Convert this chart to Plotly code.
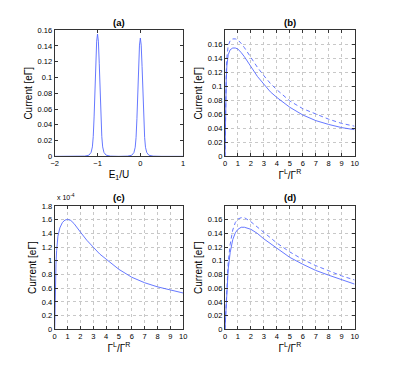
import plotly.graph_objects as go

# panel (a): current vs E1/U, two resonance peaks
a_x = [-2.0, -1.5, -1.3, -1.2, -1.15, -1.12, -1.1, -1.08, -1.06, -1.04, -1.02, -1.0,
       -0.98, -0.96, -0.94, -0.92, -0.9, -0.88, -0.85, -0.8, -0.7,
       -0.5, -0.3, -0.2, -0.15, -0.12, -0.1, -0.08, -0.06, -0.04, -0.02, 0.0,
       0.02, 0.04, 0.06, 0.08, 0.1, 0.12, 0.15, 0.2, 0.3, 0.5, 1.0]
a_y = [0.0, 0.0, 0.0003, 0.0015, 0.005, 0.012, 0.025, 0.05, 0.083, 0.118, 0.146, 0.155,
       0.146, 0.118, 0.083, 0.05, 0.025, 0.012, 0.005, 0.0015, 0.0003,
       0.0, 0.0003, 0.0014, 0.0048, 0.0115, 0.024, 0.048, 0.08, 0.114, 0.141, 0.15,
       0.141, 0.114, 0.08, 0.048, 0.024, 0.0115, 0.0048, 0.0014, 0.0003, 0.0, 0.0]

# ratio axis shared by (b), (c), (d)
g = [0, 0.02, 0.05, 0.1, 0.15, 0.25, 0.4, 0.6, 0.8, 1.0, 1.25, 1.5, 2, 2.5,
     3, 3.5, 4, 5, 6, 7, 8, 9, 10]

b_solid = [0, 0.03, 0.07, 0.11, 0.13, 0.145, 0.152, 0.1545, 0.1545, 0.153, 0.148, 0.142,
           0.128, 0.114, 0.103, 0.092, 0.084, 0.07, 0.059, 0.051, 0.0455, 0.041, 0.038]
b_dash = [0, 0.035, 0.08, 0.12, 0.142, 0.158, 0.165, 0.1675, 0.1675, 0.166, 0.161, 0.155,
          0.141, 0.127, 0.115, 0.104, 0.095, 0.079, 0.068, 0.06, 0.053, 0.047, 0.043]

c_curve = [0, 0.3, 0.65, 0.95, 1.15, 1.36, 1.48, 1.56, 1.595, 1.605, 1.59, 1.545,
           1.42, 1.3, 1.2, 1.1, 1.025, 0.875, 0.76, 0.68, 0.62, 0.57, 0.53]

d_solid = [0, 0.009, 0.022, 0.04, 0.058, 0.088, 0.112, 0.131, 0.141, 0.146, 0.149, 0.149,
           0.146, 0.14, 0.132, 0.125, 0.118, 0.105, 0.095, 0.086, 0.079, 0.072, 0.066]
d_dash = [0, 0.01, 0.025, 0.046, 0.066, 0.098, 0.124, 0.145, 0.156, 0.161, 0.163, 0.163,
          0.157, 0.149, 0.141, 0.133, 0.126, 0.113, 0.102, 0.093, 0.085, 0.078, 0.072]

blue = 'rgb(85,105,255)'
font = 'Liberation Sans, Arial, Helvetica, sans-serif'
lw = 0.9

fig = go.Figure()
fig.add_trace(go.Scatter(x=a_x, y=a_y, mode='lines', line=dict(color=blue, width=lw), xaxis='x', yaxis='y'))
fig.add_trace(go.Scatter(x=g, y=b_solid, mode='lines', line=dict(color=blue, width=lw), xaxis='x2', yaxis='y2'))
fig.add_trace(go.Scatter(x=g, y=b_dash, mode='lines', line=dict(color=blue, width=lw, dash='4px,3px'), xaxis='x2', yaxis='y2'))
fig.add_trace(go.Scatter(x=g, y=c_curve, mode='lines', line=dict(color=blue, width=lw), xaxis='x3', yaxis='y3'))
fig.add_trace(go.Scatter(x=g, y=d_solid, mode='lines', line=dict(color=blue, width=lw), xaxis='x4', yaxis='y4'))
fig.add_trace(go.Scatter(x=g, y=d_dash, mode='lines', line=dict(color=blue, width=lw, dash='4px,3px'), xaxis='x4', yaxis='y4'))


def ax(domain, rng, dtick, anchor, title, grid):
    return dict(domain=domain, range=rng, dtick=dtick, anchor=anchor,
                showline=True, linecolor='#333', linewidth=1, mirror='ticks',
                ticks='inside', ticklen=3, tickcolor='#333',
                showgrid=grid, gridcolor='#c8c8c8', griddash='dot', gridwidth=1,
                zeroline=False, tickfont=dict(size=7.5, color='black'),
                title=dict(text=title, font=dict(size=10, color='black'), standoff=3))


left = [0.131, 0.463]
right = [0.571, 0.906]
top = [0.586, 0.929]
bot = [0.116, 0.451]
ylab = 'Current [eΓ]'
glab = 'Γ<sup>L</sup>/Γ<sup>R</sup>'

yt = dict(tickvals=[0, 0.02, 0.04, 0.06, 0.08, 0.1, 0.12, 0.14, 0.16],
          ticktext=['0', '0.02', '0.04', '0.06', '0.08', '0.1', '0.12', '0.14', '0.16'])

fig.update_layout(
    xaxis=ax(left, [-2, 1], 1, 'y', 'E<sub>1</sub>/U', False),
    yaxis={**ax(top, [0, 0.16], 0.02, 'x', ylab, False), **yt},
    xaxis2=ax(right, [0, 10], 1, 'y2', glab, True),
    yaxis2={**ax(top, [0, 0.18], 0.02, 'x2', ylab, True), **yt},
    xaxis3=ax(left, [0, 10], 1, 'y3', glab, True),
    yaxis3={**ax(bot, [0, 1.8], 0.2, 'x3', ylab, True),
            'tickvals': [0, 0.2, 0.4, 0.6, 0.8, 1, 1.2, 1.4, 1.6, 1.8],
            'ticktext': ['0', '0.2', '0.4', '0.6', '0.8', '1', '1.2', '1.4', '1.6', '1.8']},
    xaxis4=ax(right, [0, 10], 1, 'y4', glab, True),
    yaxis4={**ax(bot, [0, 0.18], 0.02, 'x4', ylab, True), **yt},
    showlegend=False,
    width=395, height=377,
    margin=dict(l=0, r=0, t=0, b=0),
    paper_bgcolor='white', plot_bgcolor='white',
    font=dict(family=font, color='black'),
)

titles = [('(a)', 0.297, 0.949), ('(b)', 0.739, 0.949), ('(c)', 0.297, 0.474), ('(d)', 0.739, 0.474)]
for t, x, y in titles:
    fig.add_annotation(text='<b>%s</b>' % t, x=x, y=y, xref='paper', yref='paper',
                       xanchor='center', yanchor='middle',
                       showarrow=False, font=dict(size=9.5, color='black'))

fig.add_annotation(text='x 10<sup>-4</sup>', x=0.131, y=0.458, xref='paper', yref='paper',
                   xanchor='left', yanchor='bottom', showarrow=False, font=dict(size=7, color='black'))

fig.write_html("out.html", config={'displayModeBar': False},
               post_script="document.body.style.margin='0';document.body.style.overflow='hidden';")
